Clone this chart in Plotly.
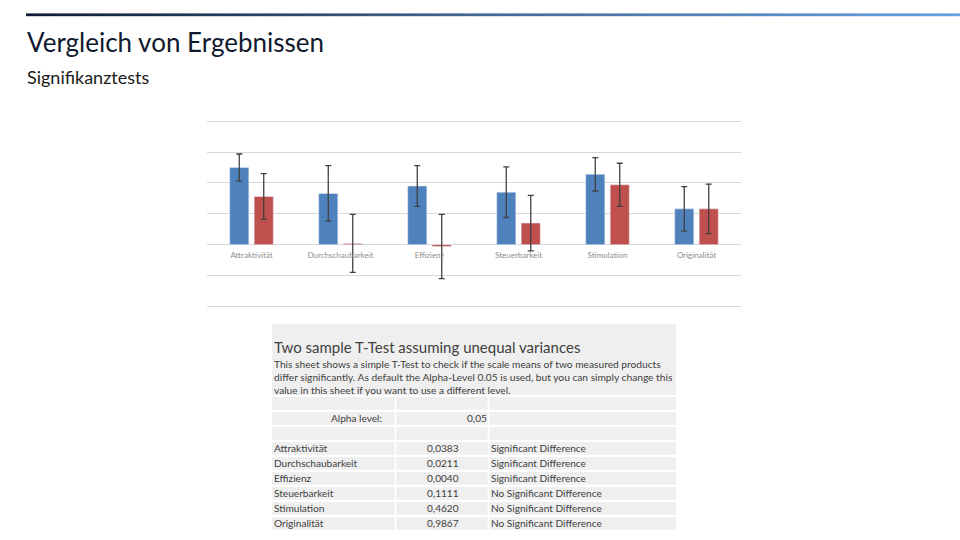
import plotly.graph_objects as go

# ---------------- data ----------------
categories = ["Attraktivität", "Durchschaubarkeit", "Effizienz",
              "Steuerbarkeit", "Stimulation", "Originalität"]
mean_a = [1.25, 0.83, 0.95, 0.85, 1.14, 0.58]
err_a = [0.22, 0.45, 0.33, 0.41, 0.27, 0.36]
mean_b = [0.78, 0.02, -0.03, 0.35, 0.97, 0.58]
err_b = [0.37, 0.47, 0.52, 0.45, 0.35, 0.40]

p_values = [0.0383, 0.0211, 0.0040, 0.1111, 0.4620, 0.9867]
alpha_level = 0.05

title_text = "Vergleich von Ergebnissen"
subtitle_text = "Signifikanztests"
table_title = "Two sample T-Test assuming unequal variances"
table_desc = [
    "This sheet shows a simple T-Test to check if the scale means of two measured products",
    "differ significantly. As default the Alpha-Level 0.05 is used, but you can simply change this",
    "value in this sheet if you want to use a different level.",
]

# ---------------- layout helpers ----------------
W, H = 960, 540


def px(x):
    return x / W


def py(y):
    return 1 - y / H


FONT = "Lato"
BLUE = "#4F81BD"
RED = "#C0504D"
GRID = "#D9D9D9"
TXT = "#404040"

# axis range padded so the edge gridlines (-1 and 2) are drawn
pad = 0.04
y_min, y_max = -1.0 - pad, 2.0 + pad
unit_px = (306.3 - 121.3) / 3.0
plot_top = 121.3 - pad * unit_px
plot_bottom = 306.3 + pad * unit_px
plot_left, plot_right = 207, 741
y_dom = [py(plot_bottom), py(plot_top)]
zero_pos = y_dom[0] + (0 - y_min) / (y_max - y_min) * (y_dom[1] - y_dom[0])

fig = go.Figure()
fig.add_trace(go.Bar(
    x=categories, y=mean_a, name="Produkt A", marker_color=BLUE,
    error_y=dict(type="data", array=err_a, color="#404040", thickness=1.3, width=3),
))
fig.add_trace(go.Bar(
    x=categories, y=mean_b, name="Produkt B", marker_color=RED,
    error_y=dict(type="data", array=err_b, color="#404040", thickness=1.3, width=3),
))

shapes = []
annotations = []

# gradient header line
def lerp(c1, c2, t):
    return tuple(round(a + (b - a) * t) for a, b in zip(c1, c2))

stops = [(0.0, (12, 26, 51)), (0.5, (70, 105, 150)), (1.0, (100, 160, 225))]
x0, x1 = 26, 960
n = 90
for i in range(n):
    t = (i + 0.5) / n
    for j in range(len(stops) - 1):
        if stops[j][0] <= t <= stops[j + 1][0]:
            tt = (t - stops[j][0]) / (stops[j + 1][0] - stops[j][0])
            c = lerp(stops[j][1], stops[j + 1][1], tt)
            break
    xa = x0 + (x1 - x0) * i / n
    xb = x0 + (x1 - x0) * (i + 1) / n + 0.5
    shapes.append(dict(type="rect", xref="paper", yref="paper",
                       x0=px(xa), x1=px(xb), y0=py(16.2), y1=py(13.4),
                       fillcolor="rgb(%d,%d,%d)" % c, line=dict(width=0), layer="above"))

annotations.append(dict(text=title_text, x=px(25), y=py(42), xref="paper", yref="paper",
                        xanchor="left", yanchor="middle", showarrow=False,
                        font=dict(family=FONT, size=26, color="#111a2e")))
annotations.append(dict(text=subtitle_text, x=px(25), y=py(77), xref="paper", yref="paper",
                        xanchor="left", yanchor="middle", showarrow=False,
                        font=dict(family=FONT, size=18, color="#1a1a1a")))

# ---------------- table ----------------
TL, TR = 272, 676
C1, C2 = 395.5, 488.5
CELL = "#EFEFEF"
shapes.append(dict(type="rect", xref="paper", yref="paper", x0=px(TL), x1=px(TR),
                   y0=py(395), y1=py(324), fillcolor=CELL, line=dict(width=0), layer="below"))
row_top0 = 397
pitch = 15
cell_h = 12.8
n_rows = 3 + len(categories)
for r in range(n_rows):
    top = row_top0 + r * pitch
    for a, b in [(TL, C1 - 0.8), (C1 + 0.8, C2 - 0.8), (C2 + 0.8, TR)]:
        shapes.append(dict(type="rect", xref="paper", yref="paper", x0=px(a), x1=px(b),
                           y0=py(top + cell_h), y1=py(top), fillcolor=CELL,
                           line=dict(width=0), layer="below"))

annotations.append(dict(text=table_title, x=px(272), y=py(347), xref="paper", yref="paper",
                        xanchor="left", yanchor="middle", showarrow=False,
                        font=dict(family=FONT, size=15, color=TXT)))
for k, line in enumerate(table_desc):
    annotations.append(dict(text=line, x=px(272), y=py(363.5 + k * 13), xref="paper", yref="paper",
                            xanchor="left", yanchor="middle", showarrow=False,
                            font=dict(family=FONT, size=10.2, color=TXT)))


def fmt(v, d):
    return f"{v:.{d}f}".replace(".", ",")


FS = 10.1
alpha_y = row_top0 + pitch + cell_h / 2
annotations.append(dict(text="Alpha level:", x=px(384), y=py(alpha_y), xref="paper", yref="paper",
                        xanchor="right", yanchor="middle", showarrow=False,
                        font=dict(family=FONT, size=FS, color=TXT)))
annotations.append(dict(text=fmt(alpha_level, 2), x=px(489), y=py(alpha_y), xref="paper", yref="paper",
                        xanchor="right", yanchor="middle", showarrow=False,
                        font=dict(family=FONT, size=FS, color=TXT)))

for i, (cat, p) in enumerate(zip(categories, p_values)):
    yc = row_top0 + (3 + i) * pitch + cell_h / 2
    res = "Significant Difference" if p < alpha_level else "No Significant Difference"
    annotations.append(dict(text=cat, x=px(272), y=py(yc), xref="paper", yref="paper",
                            xanchor="left", yanchor="middle", showarrow=False,
                            font=dict(family=FONT, size=FS, color=TXT)))
    annotations.append(dict(text=fmt(p, 4), x=px(442.7), y=py(yc), xref="paper", yref="paper",
                            xanchor="center", yanchor="middle", showarrow=False,
                            font=dict(family=FONT, size=FS, color=TXT)))
    annotations.append(dict(text=res, x=px(489), y=py(yc), xref="paper", yref="paper",
                            xanchor="left", yanchor="middle", showarrow=False,
                            font=dict(family=FONT, size=FS, color=TXT)))

fig.update_layout(
    width=W, height=H, margin=dict(l=0, r=0, t=0, b=0),
    paper_bgcolor="white", plot_bgcolor="white",
    barmode="group", bargap=0.45, bargroupgap=0.22,
    showlegend=False,
    shapes=shapes, annotations=annotations,
    xaxis=dict(domain=[px(plot_left), px(plot_right)], anchor="free", position=zero_pos,
               showgrid=False, showline=False, zeroline=False,
               ticks="outside", ticklen=3, tickcolor="rgba(0,0,0,0)",
               tickfont=dict(family=FONT, size=8, color="#8C8C8C")),
    yaxis=dict(domain=y_dom, range=[y_min, y_max], dtick=0.5, showgrid=True,
               gridcolor=GRID, gridwidth=1, zeroline=True, zerolinecolor=GRID,
               zerolinewidth=1, showticklabels=False, showline=False, ticks=""),
)

fig.write_html("out.html", config={"displayModeBar": False},
               post_script="document.body.style.margin='0';document.body.style.padding='0';")
